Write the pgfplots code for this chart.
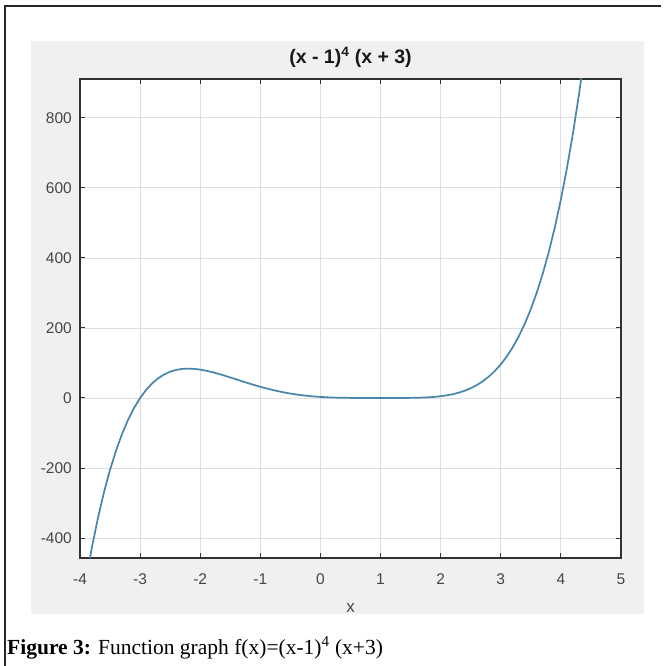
\documentclass[border=0pt]{standalone}
\usepackage{fontspec}
\setmainfont{Liberation Sans}
\newfontfamily\capfont{Liberation Serif}
\usepackage{pgfplots}
\pgfplotsset{compat=1.18}
\definecolor{figgray}{RGB}{240,240,240}
\definecolor{curve}{RGB}{72,133,170}
\definecolor{ticktxt}{RGB}{70,70,70}
\definecolor{axline}{RGB}{50,50,50}
\definecolor{gridc}{RGB}{222,222,222}
\begin{document}
\begin{tikzpicture}[x=1pt,y=1pt]
\useasboundingbox (0pt,0pt) rectangle (664pt,666pt);
\fill[figgray] (31pt,52pt) rectangle (644pt,625pt);
\draw[line width=1.5pt, black!85] (5pt,0pt) -- (5pt,660pt) -- (661pt,660pt);
\begin{axis}[
  at={(80pt,108pt)}, anchor=south west,
  scale only axis, width=541pt, height=479pt,
  xmin=-4, xmax=5, ymin=-457, ymax=911,
  xtick={-4,-3,...,5}, ytick={-400,-200,0,200,400,600,800},
  /pgf/number format/assume math mode=true,
  grid=major, grid style={gridc, line width=0.8pt},
  axis background/.style={fill=white},
  axis line style={axline, line width=1.2pt},
  tick align=inside, major tick length=5pt,
  tick style={axline, line width=1pt},
  xtick pos=both, ytick pos=both,
  ticklabel style={font=\fontsize{15.5}{17}\selectfont, text=ticktxt},
  xticklabel style={anchor=base, yshift=-27pt},
  yticklabel style={anchor=east, inner sep=0pt, xshift=-8pt},
  title={\textbf{(x - 1)\textsuperscript{4} (x + 3)}},
  title style={at={(0.5,1)}, anchor=base, yshift=9pt, font=\fontsize{19.5}{21}\selectfont, text=black!90},
  xlabel={x},
  xlabel style={at={(0.5,0)}, anchor=base, yshift=-55pt, font=\fontsize{17}{19}\selectfont, text=ticktxt},
]
\addplot[curve, line width=1.7pt] coordinates {
(-3.9,-518.83) (-3.8,-424.67) (-3.7,-341.58) (-3.6,-268.65) (-3.5,-205.03)
(-3.4,-149.92) (-3.3,-102.56) (-3.2,-62.23) (-3.1,-28.26) (-3.0,0)
(-2.9,23.13) (-2.8,41.70) (-2.7,56.22) (-2.6,67.18) (-2.5,75.03)
(-2.4,80.18) (-2.3,83.01) (-2.2,83.89) (-2.1,83.12) (-2.0,81)
(-1.9,77.80) (-1.8,73.76) (-1.7,69.09) (-1.6,63.98) (-1.5,58.59)
(-1.4,53.08) (-1.3,47.57) (-1.2,42.17) (-1.1,36.95) (-1.0,32)
(-0.9,27.37) (-0.8,23.09) (-0.7,19.21) (-0.6,15.73) (-0.5,12.66)
(-0.4,9.99) (-0.3,7.71) (-0.2,5.81) (-0.1,4.25) (0,3)
(0.1,2.03) (0.2,1.31) (0.3,0.79) (0.4,0.44) (0.5,0.22)
(0.6,0.09) (0.7,0.03) (0.8,0.006) (0.9,0) (1.0,0)
(1.1,0) (1.2,0.007) (1.3,0.03) (1.4,0.11) (1.5,0.28)
(1.6,0.60) (1.7,1.13) (1.8,1.97) (1.9,3.21) (2.0,5)
(2.1,7.47) (2.2,10.78) (2.3,15.14) (2.4,20.74) (2.5,27.84)
(2.6,36.70) (2.7,47.61) (2.8,60.89) (2.9,76.89) (3.0,96)
(3.1,118.63) (3.2,145.24) (3.3,176.30) (3.4,212.34) (3.5,253.91)
(3.6,301.60) (3.7,356.07) (3.8,417.97) (3.9,488.02) (4.0,567)
(4.1,655.70) (4.2,754.97) (4.3,865.72) (4.4,988.89)
};
\end{axis}
\node[anchor=base west, inner sep=0pt, font=\capfont\fontsize{21.5}{24}\selectfont] at (7pt,12pt)
  {\textbf{Figure 3:} Function graph f(x)=(x-1)\textsuperscript{4} (x+3)};
\end{tikzpicture}
\end{document}
